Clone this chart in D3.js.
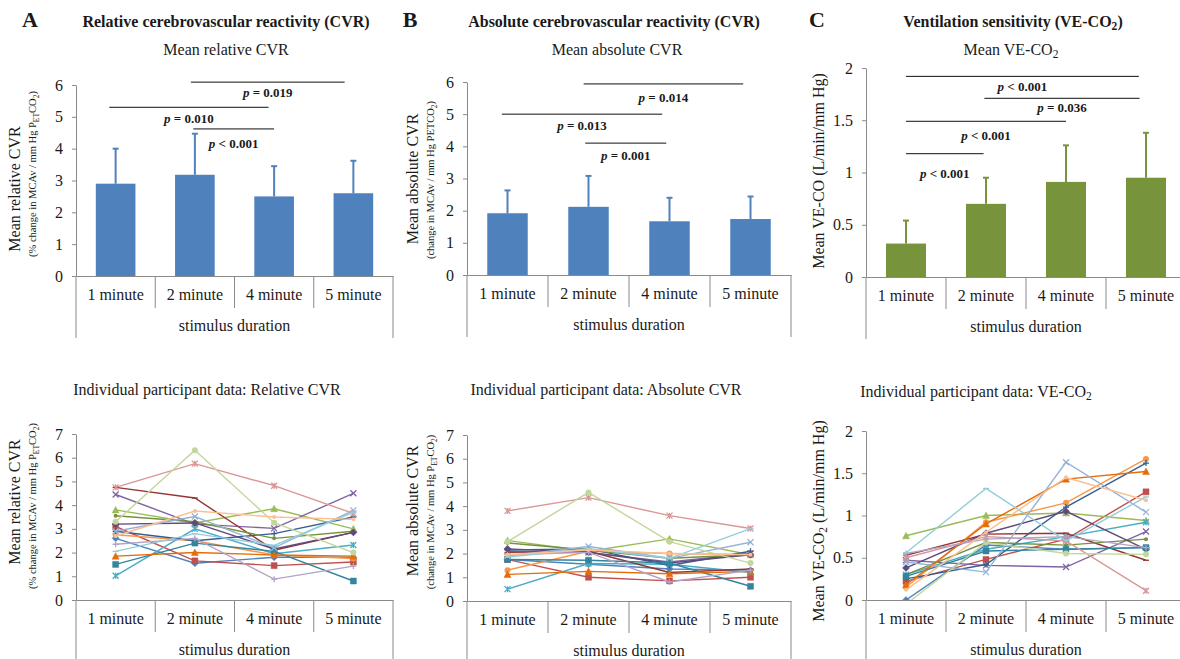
<!DOCTYPE html>
<html>
<head>
<meta charset="utf-8">
<script src="https://cdn.jsdelivr.net/npm/d3@7"></script>
<style>
  body { margin: 0; background: #fff; }
  svg text { font-family: "Liberation Serif", "Times New Roman", "DejaVu Serif", serif !important; fill: #1a1a1a; }
</style>
</head>
<body>
<svg id="fig" width="1180" height="659"></svg>
<script>
// ---- data ----
var categories = ["1 minute", "2 minute", "4 minute", "5 minute"];

var relMean = [2.9, 3.18, 2.5, 2.6];
var relSD = [1.1, 1.29, 0.95, 1.02];
var absMean = [1.92, 2.12, 1.67, 1.74];
var absSD = [0.71, 0.96, 0.73, 0.70];
var veMean = [0.32, 0.70, 0.91, 0.95];
var veSD = [0.22, 0.25, 0.35, 0.43];

var ticks6 = [0, 1, 2, 3, 4, 5, 6];
var ticks7 = [0, 1, 2, 3, 4, 5, 6, 7];
var ticks2 = [0, 0.5, 1, 1.5, 2];

// significance bars: category positions (0 = 1 minute), bar height, label baseline
var relSig = [
  { from: -0.08, to: 1.93, y: 5.3, labelY: 4.81, label: "= 0.010" },
  { from: 0.95, to: 2.89, y: 6.09, labelY: 5.62, label: "= 0.019" },
  { from: 0.98, to: 2.0, y: 4.62, labelY: 4.02, label: "< 0.001" }
];
var absSig = [
  { from: -0.07, to: 1.91, y: 5.0, labelY: 4.51, label: "= 0.013" },
  { from: 0.94, to: 2.91, y: 5.94, labelY: 5.38, label: "= 0.014" },
  { from: 0.96, to: 1.96, y: 4.1, labelY: 3.57, label: "= 0.001" }
];
var veSig = [
  { from: 0.0, to: 2.91, y: 1.92, labelY: 1.78, label: "< 0.001" },
  { from: 0.98, to: 2.92, y: 1.71, labelY: 1.58, label: "= 0.036" },
  { from: 0.0, to: 2.0, y: 1.49, labelY: 1.31, label: "< 0.001" },
  { from: 0.0, to: 0.97, y: 1.18, labelY: 0.95, label: "< 0.001" }
];

// individual participants (one row per participant: 1, 2, 4, 5 minute)
var relIndividual = [
  [2.6, 1.55, 1.8, 1.8],
  [3.1, 1.65, 1.45, 1.6],
  [3.8, 3.25, 3.85, 3.0],
  [4.45, 3.2, 3.02, 4.5],
  [1.02, 3.0, 1.95, 2.32],
  [2.75, 2.5, 1.9, 1.75],
  [2.9, 2.5, 2.8, 3.5],
  [4.75, 4.3, 2.1, 2.85],
  [3.55, 3.3, 2.6, 2.9],
  [3.2, 3.25, 2.15, 2.85],
  [1.5, 2.4, 2.05, 0.8],
  [1.85, 2.0, 1.9, 1.85],
  [2.9, 3.52, 2.2, 3.78],
  [4.75, 5.75, 4.82, 3.65],
  [3.3, 6.32, 3.26, 2.0],
  [2.35, 2.6, 0.88, 1.43],
  [2.05, 2.8, 2.3, 3.7],
  [2.7, 3.75, 3.5, 3.4]
];
var absIndividual = [
  [1.75, 1.55, 1.35, 1.3],
  [1.75, 1.0, 0.85, 1.0],
  [2.55, 2.1, 2.62, 1.95],
  [2.1, 2.05, 1.65, 2.0],
  [0.5, 1.58, 1.55, 1.2],
  [1.3, 2.1, 2.0, 1.95],
  [2.15, 2.2, 1.5, 2.1],
  [2.05, 2.1, 1.2, 1.35],
  [2.45, 2.15, 1.8, 1.95],
  [2.2, 2.05, 1.6, 1.95],
  [1.75, 1.72, 1.6, 0.62],
  [1.12, 1.25, 1.15, 1.25],
  [1.9, 2.3, 1.8, 2.48],
  [3.8, 4.36, 3.6, 3.06],
  [2.5, 4.58, 2.5, 1.6],
  [1.95, 2.05, 0.8, 1.3],
  [1.85, 2.2, 1.8, 3.05],
  [1.95, 2.15, 2.0, 1.95]
];
var veIndividual = [
  [0.0, 0.65, 0.6, 0.62],
  [0.22, 0.48, 0.72, 1.28],
  [0.76, 1.0, 1.03, 0.94],
  [0.47, 0.41, 0.39, 0.81],
  [0.3, 0.6, 0.75, 0.92],
  [0.15, 0.92, 1.15, 1.67],
  [0.25, 0.42, 1.1, 1.62],
  [0.53, 0.78, 0.79, 0.47],
  [0.3, 0.68, 0.65, 0.72],
  [0.38, 0.79, 1.05, 0.6],
  [0.28, 0.58, 0.6, 0.62],
  [0.18, 0.9, 1.43, 1.52],
  [0.45, 0.33, 1.63, 1.04],
  [0.5, 0.75, 0.7, 0.11],
  [-0.05, 0.68, 0.55, 0.54],
  [0.55, 0.72, 0.75, 0.62],
  [0.56, 1.32, 0.7, 1.22],
  [0.12, 0.8, 1.45, 1.18]
];

// Excel-like series colours and markers
var seriesColors = ["#4F81BD", "#C0504D", "#9BBB59", "#8064A2", "#4BACC6", "#F79646",
  "#365F91", "#943634", "#76923C", "#5F497A", "#31859C", "#E46C0A",
  "#95B3D7", "#D99694", "#C3D69B", "#B2A2C7", "#93CDDD", "#FAC090"];
var markerTypes = ["diamond", "square", "triangle", "x", "star", "circle", "plus", "dash", "dot"];

var svg = d3.select("#fig");
var axisColor = "#8a8a8a";

// write text made of plain / subscript pieces
function richText(sel, parts) {
  var shift = 0;
  parts.forEach(function(p) {
    var t = sel.append("tspan").text(p.t);
    var want = p.sub ? 3 : 0;
    if (want !== shift) { t.attr("dy", want - shift); shift = want; }
    if (p.sub) t.attr("font-size", "0.72em");
    if (p.italic) t.attr("font-style", "italic");
  });
  return sel;
}

function makePanel(cfg) {
  var g = svg.append("g");
  var x = d3.scaleBand().domain(categories).range([cfg.x0, cfg.x1]);
  var y = d3.scaleLinear().domain([0, cfg.max]).range([cfg.y0, cfg.yTop]);

  // y axis
  var yAxis = g.append("g")
    .attr("transform", "translate(" + cfg.x0 + ",0)")
    .call(d3.axisLeft(y).tickValues(cfg.ticks).tickSize(4).tickPadding(9)
      .tickSizeOuter(0).tickFormat(function(d) { return String(d); }));
  yAxis.attr("font-family", null);
  yAxis.select(".domain").attr("stroke", axisColor);
  yAxis.selectAll(".tick line").attr("stroke", axisColor);
  yAxis.selectAll(".tick text").attr("font-size", 16).attr("fill", "#1a1a1a");

  // category axis with labels at band centres
  var xAxis = g.append("g")
    .attr("transform", "translate(0," + cfg.y0 + ")")
    .call(d3.axisBottom(x).tickSize(0).tickPadding(13).tickSizeOuter(0));
  xAxis.attr("font-family", null);
  xAxis.select(".domain").attr("stroke", axisColor);
  xAxis.selectAll(".tick text").attr("font-size", 16).attr("fill", "#1a1a1a");

  // category separators and outer box of the two-level axis
  var step = x.step();
  d3.range(1, categories.length).forEach(function(i) {
    g.append("line")
      .attr("x1", cfg.x0 + i * step).attr("x2", cfg.x0 + i * step)
      .attr("y1", cfg.y0).attr("y2", cfg.y0 + 32)
      .attr("stroke", axisColor);
  });
  [cfg.x0, cfg.x1].forEach(function(xx) {
    g.append("line")
      .attr("x1", xx).attr("x2", xx)
      .attr("y1", cfg.y0).attr("y2", cfg.y0 + 62)
      .attr("stroke", axisColor);
  });
  g.append("text")
    .attr("x", (cfg.x0 + cfg.x1) / 2).attr("y", cfg.y0 + 55)
    .attr("text-anchor", "middle").attr("font-size", 16)
    .text("stimulus duration");

  // y axis labels
  var lab = g.append("text")
    .attr("transform", "translate(" + cfg.labelX + "," + cfg.labelY + ") rotate(-90)")
    .attr("text-anchor", "middle").attr("font-size", 16);
  richText(lab, cfg.label);
  if (cfg.subLabel) {
    var sub = g.append("text")
      .attr("transform", "translate(" + (cfg.labelX + 16) + "," + cfg.subLabelY + ") rotate(-90)")
      .attr("text-anchor", "middle").attr("font-size", 10.5);
    richText(sub, cfg.subLabel);
  }

  // panel heading
  var head = g.append("text")
    .attr("x", cfg.titleX).attr("y", cfg.titleY)
    .attr("text-anchor", "middle").attr("font-size", 16);
  richText(head, cfg.title);

  return { g: g, x: x, y: y };
}

function drawBars(p, means, sds, color, sig) {
  var x = p.x, y = p.y;
  var bw = x.bandwidth() * 0.5;
  p.g.selectAll("rect.bar")
    .data(means)
    .enter()
    .append("rect")
    .attr("class", "bar")
    .attr("x", function(d, i) { return x(categories[i]) + x.bandwidth() / 2 - bw / 2; })
    .attr("width", bw)
    .attr("y", function(d) { return y(d); })
    .attr("height", function(d) { return y(0) - y(d); })
    .attr("fill", color);

  // upward error bars
  means.forEach(function(m, i) {
    var cx = x(categories[i]) + x.bandwidth() / 2;
    p.g.append("line")
      .attr("x1", cx).attr("x2", cx)
      .attr("y1", y(m)).attr("y2", y(m + sds[i]))
      .attr("stroke", color).attr("stroke-width", 2);
    p.g.append("line")
      .attr("x1", cx - 3).attr("x2", cx + 3)
      .attr("y1", y(m + sds[i])).attr("y2", y(m + sds[i]))
      .attr("stroke", color).attr("stroke-width", 2);
  });

  // significance bars
  var xPos = function(i) { return x.range()[0] + (i + 0.5) * x.step(); };
  sig.forEach(function(s) {
    p.g.append("line")
      .attr("x1", xPos(s.from)).attr("x2", xPos(s.to))
      .attr("y1", y(s.y)).attr("y2", y(s.y))
      .attr("stroke", "#111").attr("stroke-width", 1);
    var t = p.g.append("text")
      .attr("x", (xPos(s.from) + xPos(s.to)) / 2)
      .attr("y", y(s.labelY))
      .attr("text-anchor", "middle")
      .attr("font-size", 13).attr("font-weight", "bold");
    richText(t, [{ t: "p", italic: true }, { t: " " + s.label }]);
  });
}

function markerPath(type, s) {
  var h = s / 2;
  switch (type) {
    case "diamond": return "M0," + (-h - 0.5) + "L" + (h + 0.5) + ",0L0," + (h + 0.5) + "L" + (-h - 0.5) + ",0Z";
    case "square": return "M" + (-h) + "," + (-h) + "h" + s + "v" + s + "h" + (-s) + "Z";
    case "triangle": return "M0," + (-h - 0.5) + "L" + (h + 0.5) + "," + h + "L" + (-h - 0.5) + "," + h + "Z";
    case "x": return "M" + (-h) + "," + (-h) + "L" + h + "," + h + "M" + (-h) + "," + h + "L" + h + "," + (-h);
    case "star": return "M" + (-h) + "," + (-h) + "L" + h + "," + h + "M" + (-h) + "," + h + "L" + h + "," + (-h) + "M0," + (-h) + "V" + h;
    case "plus": return "M" + (-h) + ",0H" + h + "M0," + (-h) + "V" + h;
    case "dash": return "M" + (-h) + ",0H" + h;
    default: return null;
  }
}

function drawLines(p, rows, clipId) {
  var x = p.x, y = p.y;
  var cx = function(i) { return x(categories[i]) + x.bandwidth() / 2; };
  var r = x.range();
  svg.append("clipPath").attr("id", clipId)
    .append("rect")
    .attr("x", r[0]).attr("y", y.range()[1] - 10)
    .attr("width", r[1] - r[0]).attr("height", y(0) - y.range()[1] + 10);
  var area = p.g.append("g").attr("clip-path", "url(#" + clipId + ")");
  var line = d3.line().x(function(d, i) { return cx(i); }).y(function(d) { return y(d); });

  rows.forEach(function(vals, k) {
    var color = seriesColors[k % seriesColors.length];
    var type = markerTypes[k % markerTypes.length];
    var sg = area.append("g");
    sg.append("path").datum(vals).attr("d", line)
      .attr("fill", "none").attr("stroke", color).attr("stroke-width", 1.4);
    vals.forEach(function(v, i) {
      var pt = sg.append("g").attr("transform", "translate(" + cx(i) + "," + y(v) + ")");
      if (type === "circle" || type === "dot") {
        pt.append("circle").attr("r", type === "circle" ? 3 : 2).attr("fill", color);
      } else {
        var filled = type === "diamond" || type === "square" || type === "triangle";
        pt.append("path").attr("d", markerPath(type, 6))
          .attr("fill", filled ? color : "none")
          .attr("stroke", color).attr("stroke-width", filled ? 0.5 : 1.3);
      }
    });
  });
}

// ---- top row: means ----
var pA = makePanel({
  x0: 76, x1: 393, y0: 276, yTop: 85, max: 6, ticks: ticks6,
  labelX: 20, labelY: 189, subLabelY: 174,
  label: [{ t: "Mean relative CVR" }],
  subLabel: [{ t: "(% change in MCAv / mm Hg P" }, { t: "ET", sub: true }, { t: "CO" }, { t: "2", sub: true }, { t: ")" }],
  titleX: 226, titleY: 55, title: [{ t: "Mean relative CVR" }]
});
drawBars(pA, relMean, relSD, "#4F81BD", relSig);

var pB = makePanel({
  x0: 467, x1: 791, y0: 275, yTop: 82, max: 6, ticks: ticks6,
  labelX: 418, labelY: 179, subLabelY: 180,
  label: [{ t: "Mean absolute CVR" }],
  subLabel: [{ t: "(change in MCAv / mm Hg PETCO" }, { t: "2", sub: true }, { t: ")" }],
  titleX: 617, titleY: 55, title: [{ t: "Mean absolute CVR" }]
});
drawBars(pB, absMean, absSD, "#4F81BD", absSig);

var pC = makePanel({
  x0: 866, x1: 1186, y0: 277, yTop: 68, max: 2, ticks: ticks2,
  labelX: 824, labelY: 171,
  label: [{ t: "Mean VE-CO (L/min/mm Hg)" }],
  titleX: 1011, titleY: 55, title: [{ t: "Mean VE-CO" }, { t: "2", sub: true }]
});
drawBars(pC, veMean, veSD, "#77933C", veSig);

// ---- bottom row: individual participants ----
var qA = makePanel({
  x0: 76, x1: 393, y0: 600, yTop: 434, max: 7, ticks: ticks7,
  labelX: 20, labelY: 502, subLabelY: 506,
  label: [{ t: "Mean relative CVR" }],
  subLabel: [{ t: "(% change in MCAv / mm Hg P" }, { t: "ET", sub: true }, { t: "CO" }, { t: "2", sub: true }, { t: ")" }],
  titleX: 207, titleY: 395, title: [{ t: "Individual participant data: Relative CVR" }]
});
drawLines(qA, relIndividual, "clipA");

var qB = makePanel({
  x0: 467, x1: 791, y0: 601, yTop: 435, max: 7, ticks: ticks7,
  labelX: 418, labelY: 511, subLabelY: 512,
  label: [{ t: "Mean absolute CVR" }],
  subLabel: [{ t: "(change in MCAv / mm Hg P" }, { t: "ET", sub: true }, { t: "CO" }, { t: "2", sub: true }, { t: ")" }],
  titleX: 606, titleY: 395, title: [{ t: "Individual participant data: Absolute CVR" }]
});
drawLines(qB, absIndividual, "clipB");

var qC = makePanel({
  x0: 866, x1: 1186, y0: 600, yTop: 431, max: 2, ticks: ticks2,
  labelX: 824, labelY: 521,
  label: [{ t: "Mean VE-CO" }, { t: "2", sub: true }, { t: " (L/min/mm Hg)" }],
  titleX: 976, titleY: 397, title: [{ t: "Individual participant data: VE-CO" }, { t: "2", sub: true }]
});
drawLines(qC, veIndividual, "clipC");

// ---- panel letters and bold headings ----
var heads = [
  { letter: "A", lx: 30, hx: 226, parts: [{ t: "Relative cerebrovascular reactivity (CVR)" }] },
  { letter: "B", lx: 410, hx: 614, parts: [{ t: "Absolute cerebrovascular reactivity (CVR)" }] },
  { letter: "C", lx: 817, hx: 1013, parts: [{ t: "Ventilation sensitivity (VE-CO" }, { t: "2", sub: true }, { t: ")" }] }
];
heads.forEach(function(h) {
  svg.append("text").attr("x", h.lx).attr("y", 27)
    .attr("text-anchor", "middle").attr("font-size", 22).attr("font-weight", "bold")
    .text(h.letter);
  var t = svg.append("text").attr("x", h.hx).attr("y", 27)
    .attr("text-anchor", "middle").attr("font-size", 16).attr("font-weight", "bold");
  richText(t, h.parts);
});
</script>
</body>
</html>
